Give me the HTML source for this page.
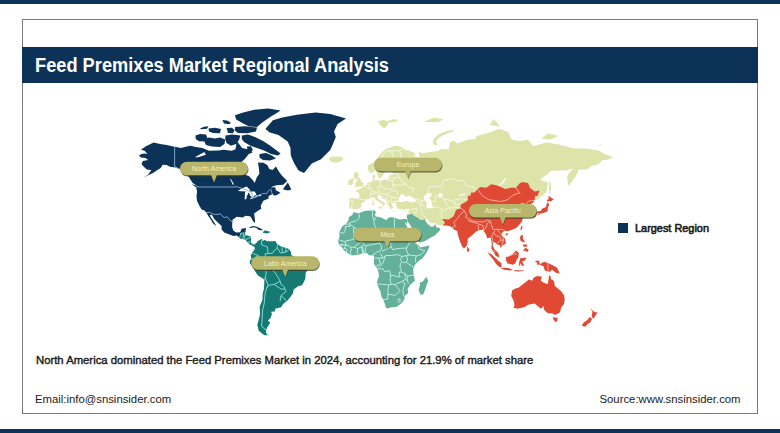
<!DOCTYPE html>
<html><head><meta charset="utf-8">
<style>
*{margin:0;padding:0;box-sizing:border-box}
html,body{width:780px;height:433px;overflow:hidden;background:#fff;font-family:"Liberation Sans",sans-serif}
#topbar{position:absolute;left:0;top:0;width:780px;height:4px;background:#0c3357}
#botbar{position:absolute;left:0;top:428.6px;width:780px;height:5px;background:#0c3357}
#frame{position:absolute;left:22px;top:19px;width:736px;height:395px;border:1px solid #7a7a7a}
#title{position:absolute;left:22px;top:47px;width:736px;height:36px;background:#0c3357}
#title span{position:absolute;left:13px;top:6.5px;color:#fff;font-weight:bold;font-size:19.5px;white-space:nowrap;transform-origin:0 0;transform:scaleX(0.935)}
.t{position:absolute;white-space:nowrap;color:#1a1a1a}
#sub{left:36px;top:353.8px;font-size:11.3px;font-weight:normal;-webkit-text-stroke:0.4px #1a1a1a;transform-origin:0 0;transform:scaleX(1.0)}
#email{left:35px;top:392.6px;font-size:11.33px}
#source{left:599.5px;top:392.6px;font-size:11.33px}
#legsq{position:absolute;left:618px;top:223px;width:10px;height:10px;background:#0c3357}
#leg{left:635px;top:221.8px;font-size:11.2px;font-weight:normal;-webkit-text-stroke:0.6px #1a1a1a;transform-origin:0 0;transform:scaleX(0.975)}
svg#map{position:absolute;left:0;top:0}
</style></head><body>
<div id="topbar"></div>
<div id="frame"></div>
<div id="title"><span>Feed Premixes Market Regional Analysis</span></div>
<svg id="map" width="780" height="433" viewBox="0 0 780 433">
<defs>
<clipPath id="cNA"><path d="M138.9,155.6L141.5,154.1L144.2,153.5L147.5,154.1L144.6,150.8L140.9,149.7L145.5,146.5L149.5,144.6L153.7,142.5L160.1,143.9L166.7,145.1L174.6,146.7L181.2,148.1L184.5,147.0L190.5,145.8L195.8,147.0L202.4,148.1L209.0,150.8L218.3,150.4L223.6,149.7L231.5,150.8L235.5,149.2L236.8,141.0L242.1,148.1L247.4,149.2L252.7,152.6L248.8,154.1L244.8,159.0L238.2,165.1L236.2,169.0L239.5,172.8L244.8,174.7L248.8,175.9L252.7,180.1L254.7,183.0L256.7,177.4L259.4,173.7L258.7,167.1L258.0,162.5L263.3,162.7L267.3,165.1L269.3,169.0L272.6,170.0L275.9,166.5L279.2,171.9L281.9,175.6L287.2,180.9L283.2,184.8L276.6,185.3L273.3,186.3L270.6,187.6L275.2,187.3L275.9,190.3L280.5,192.7L276.6,195.2L273.9,195.6L272.6,193.9L268.6,196.0L268.6,198.6L263.3,200.7L261.3,204.5L260.7,206.3L261.3,208.7L258.0,210.7L254.1,213.6L255.1,220.5L254.9,223.0L253.0,221.2L251.8,218.4L250.1,216.2L245.4,215.8L242.8,217.4L240.8,217.2L236.8,216.8L232.5,219.8L232.2,224.0L232.2,227.4L233.5,230.8L236.2,232.6L240.2,232.2L241.6,228.8L246.1,228.1L245.4,231.5L244.4,235.5L248.1,235.7L251.0,236.9L250.5,242.2L253.4,244.8L256.0,244.0L259.0,245.2L258.0,246.8L255.4,247.1L253.0,245.9L249.4,244.0L247.7,242.2L245.4,239.5L240.2,238.2L236.8,235.5L233.5,235.9L228.9,234.2L224.3,232.4L221.6,229.5L221.6,226.0L218.3,222.9L214.3,219.1L211.7,214.5L209.7,215.5L212.0,219.1L215.7,224.7L216.3,226.0L213.0,223.6L210.4,219.1L208.4,216.2L206.3,212.6L204.4,210.4L201.6,209.6L199.1,205.2L197.1,201.0L196.5,196.8L197.1,191.4L196.2,188.0L198.4,187.0L195.8,185.3L192.5,182.7L189.2,177.4L185.2,172.8L181.2,170.0L176.6,167.5L170.6,167.1L166.7,165.1L162.7,164.7L160.7,168.0L157.4,170.0L153.4,172.8L146.8,176.1L143.5,177.4L148.1,174.7L151.4,170.0L146.8,169.4L143.5,166.5L141.5,164.1L142.8,161.1L148.1,160.1L145.5,158.0L140.9,157.5Z"/></clipPath>
<clipPath id="cEU"><path fill-rule="evenodd" d="M353.9,210.0L353.0,208.8L351.4,208.2L349.5,208.5L349.6,205.9L348.7,205.8L349.5,203.2L349.6,200.8L349.0,199.3L350.7,198.1L356.0,198.5L358.9,198.6L359.7,195.2L358.4,192.6L355.1,191.1L357.3,189.8L359.3,190.0L359.2,188.3L361.3,188.6L363.4,186.2L365.3,185.5L367.3,184.3L367.7,182.6L370.6,181.7L372.8,181.0L372.7,178.1L372.2,175.7L374.5,174.2L375.3,176.6L374.5,179.0L375.9,180.4L378.5,179.9L380.5,181.0L385.1,179.3L387.5,179.9L389.4,177.7L389.1,175.3L392.4,174.9L393.3,174.4L392.4,171.5L398.4,170.5L394.4,169.0L390.4,169.2L389.8,166.6L389.8,163.6L394.4,159.4L393.7,157.7L389.8,159.4L386.5,162.6L384.5,164.6L383.9,168.0L386.2,170.5L383.1,174.4L382.5,176.8L378.5,178.3L378.2,176.2L376.9,173.4L375.9,171.5L375.2,170.0L373.9,171.5L371.2,173.4L368.8,171.9L367.9,168.6L367.9,165.6L370.6,164.0L374.5,161.9L377.2,158.3L379.8,155.1L382.5,151.7L385.8,149.0L391.8,147.1L395.5,145.7L399.0,146.2L402.3,147.6L405.0,149.9L409.0,150.6L415.6,153.5L414.3,156.6L419.6,157.3L418.6,151.5L422.2,153.3L431.5,151.7L438.1,151.1L440.7,149.0L448.7,149.5L450.0,142.3L454.0,140.6L457.3,143.5L460.6,142.3L467.2,139.8L475.2,139.1L476.5,136.0L487.1,133.3L499.4,128.7L508.3,132.0L511.6,139.8L520.2,141.1L528.1,139.8L533.4,145.9L546.7,142.5L559.9,144.7L573.1,148.3L586.4,148.8L597.0,150.2L599.6,151.1L606.2,154.7L613.3,157.1L607.6,159.8L602.3,160.3L598.3,164.6L591.7,166.0L586.4,169.6L578.4,169.8L577.1,173.4L575.8,176.2L573.1,179.9L568.8,186.1L567.8,182.6L567.2,177.2L568.5,173.8L573.1,168.6L566.5,170.5L559.9,170.5L550.6,170.9L547.3,174.4L544.0,176.2L540.0,179.9L548.0,182.6L547.3,187.8L546.7,191.1L544.0,194.4L537.4,199.6L534.3,200.4L533.0,202.7L530.1,204.2L531.4,206.2L532.8,210.0L532.4,211.3L528.8,212.4L528.8,210.0L528.8,207.3L526.8,207.0L527.5,204.7L525.9,203.9L522.8,203.2L521.5,205.5L522.2,202.5L519.5,204.7L517.3,205.6L518.9,208.2L523.5,207.9L519.5,211.5L521.2,215.1L522.7,217.3L522.2,220.9L519.5,224.4L516.2,227.9L512.2,229.5L507.6,231.3L505.0,230.5L502.3,232.4L501.4,234.7L505.0,238.7L506.0,243.4L503.0,245.3L500.1,247.8L500.3,245.3L497.7,244.7L495.0,242.4L493.7,241.4L492.6,245.3L494.4,249.3L496.3,251.0L498.3,253.2L499.4,257.3L498.2,257.1L495.4,255.4L494.1,252.6L491.4,248.6L491.7,243.4L490.8,237.4L487.1,238.3L486.2,234.7L483.8,231.3L482.8,229.2L481.1,229.9L478.5,230.3L476.5,231.3L474.5,233.1L471.2,236.0L467.6,238.7L467.6,241.9L467.0,245.6L463.9,248.5L462.3,246.4L460.6,242.7L458.9,238.0L457.7,234.0L457.4,231.0L454.0,229.5L452.4,227.9L450.0,226.1L446.0,225.4L442.9,225.5L437.4,224.8L435.7,222.7L432.8,223.4L429.5,221.9L428.2,219.4L425.5,218.7L424.9,220.2L426.8,223.0L428.2,225.1L429.5,224.4L429.6,226.5L433.5,226.7L435.4,224.0L436.1,227.2L439.2,227.9L440.5,229.4L438.1,232.0L434.8,235.6L430.8,237.4L425.5,240.7L420.9,242.3L418.9,242.4L417.8,238.7L415.6,233.3L412.9,229.9L410.3,225.1L407.6,221.6L407.5,219.4L406.6,216.9L407.6,214.4L408.7,210.7L409.2,209.1L407.0,208.8L404.3,209.8L401.7,209.2L398.4,208.9L396.4,206.2L396.0,203.9L395.7,202.7L393.1,202.7L391.8,203.5L391.2,203.2L391.8,205.0L393.1,207.0L391.8,209.2L390.0,208.8L389.4,206.5L387.8,204.5L387.0,201.1L385.8,200.0L382.5,198.5L380.5,195.6L379.4,195.1L377.6,195.6L377.9,197.7L379.8,200.0L382.5,201.6L385.8,203.8L383.8,204.7L383.1,206.2L382.1,207.0L382.5,204.7L381.8,203.5L380.1,202.7L377.9,201.3L375.9,200.0L374.5,197.7L373.1,197.0L371.2,198.0L368.6,198.9L365.4,199.3L365.5,201.0L364.2,201.8L362.0,203.2L360.9,204.7L361.6,205.9L360.6,207.6L358.4,208.9L355.5,208.9ZM399.7,202.1L403.0,202.1L407.6,200.8L411.6,202.4L416.2,201.6L416.2,200.0L411.6,196.9L409.6,195.6L405.7,196.9L404.3,195.2L401.7,193.6L400.5,195.7L399.0,198.5L398.4,200.8ZM423.5,196.9L426.8,193.6L428.8,192.8L431.5,193.1L431.5,196.1L429.1,196.9L431.2,200.8L432.1,203.2L432.7,208.0L427.5,208.5L426.2,207.0L426.8,203.5L425.5,200.8L424.2,199.3Z"/></clipPath>
</defs>
<path fill="#0c3357" d="M138.9,155.6L141.5,154.1L144.2,153.5L147.5,154.1L144.6,150.8L140.9,149.7L145.5,146.5L149.5,144.6L153.7,142.5L160.1,143.9L166.7,145.1L174.6,146.7L181.2,148.1L184.5,147.0L190.5,145.8L195.8,147.0L202.4,148.1L209.0,150.8L218.3,150.4L223.6,149.7L231.5,150.8L235.5,149.2L236.8,141.0L242.1,148.1L247.4,149.2L252.7,152.6L248.8,154.1L244.8,159.0L238.2,165.1L236.2,169.0L239.5,172.8L244.8,174.7L248.8,175.9L252.7,180.1L254.7,183.0L256.7,177.4L259.4,173.7L258.7,167.1L258.0,162.5L263.3,162.7L267.3,165.1L269.3,169.0L272.6,170.0L275.9,166.5L279.2,171.9L281.9,175.6L287.2,180.9L283.2,184.8L276.6,185.3L273.3,186.3L270.6,187.6L275.2,187.3L275.9,190.3L280.5,192.7L276.6,195.2L273.9,195.6L272.6,193.9L268.6,196.0L268.6,198.6L263.3,200.7L261.3,204.5L260.7,206.3L261.3,208.7L258.0,210.7L254.1,213.6L255.1,220.5L254.9,223.0L253.0,221.2L251.8,218.4L250.1,216.2L245.4,215.8L242.8,217.4L240.8,217.2L236.8,216.8L232.5,219.8L232.2,224.0L232.2,227.4L233.5,230.8L236.2,232.6L240.2,232.2L241.6,228.8L246.1,228.1L245.4,231.5L244.4,235.5L248.1,235.7L251.0,236.9L250.5,242.2L253.4,244.8L256.0,244.0L259.0,245.2L258.0,246.8L255.4,247.1L253.0,245.9L249.4,244.0L247.7,242.2L245.4,239.5L240.2,238.2L236.8,235.5L233.5,235.9L228.9,234.2L224.3,232.4L221.6,229.5L221.6,226.0L218.3,222.9L214.3,219.1L211.7,214.5L209.7,215.5L212.0,219.1L215.7,224.7L216.3,226.0L213.0,223.6L210.4,219.1L208.4,216.2L206.3,212.6L204.4,210.4L201.6,209.6L199.1,205.2L197.1,201.0L196.5,196.8L197.1,191.4L196.2,188.0L198.4,187.0L195.8,185.3L192.5,182.7L189.2,177.4L185.2,172.8L181.2,170.0L176.6,167.5L170.6,167.1L166.7,165.1L162.7,164.7L160.7,168.0L157.4,170.0L153.4,172.8L146.8,176.1L143.5,177.4L148.1,174.7L151.4,170.0L146.8,169.4L143.5,166.5L141.5,164.1L142.8,161.1L148.1,160.1L145.5,158.0L140.9,157.5ZM282.8,189.3L287.8,182.5L291.4,189.5L287.8,190.6ZM198.1,188.1L195.8,187.3L191.4,183.9L196.5,186.1ZM243.2,112.5L254.3,109.7L268.1,108.6L280.6,110.4L276.0,113.5L270.9,116.6L262.6,122.2L257.0,127.0L248.7,126.3L243.2,123.5L236.2,119.4L234.9,115.2ZM235.0,127.0L245.0,126.3L257.0,127.5L256.0,131.5L247.0,133.2L238.0,133.0L234.9,130.5ZM226.6,128.0L232.0,127.7L234.5,130.0L233.0,133.2L228.0,133.0ZM222.4,120.0L227.0,120.5L230.7,122.5L229.5,124.2L224.0,123.5ZM208.5,128.5L215.0,127.7L221.0,129.0L220.0,133.2L213.0,133.0L209.0,131.5ZM200.0,128.5L204.0,126.8L208.5,126.3L207.0,128.7L201.0,129.3ZM195.4,135.5L200.0,134.0L206.0,134.5L207.2,137.5L205.5,141.6L199.0,141.2L195.8,139.0ZM204.4,139.0L209.0,137.4L215.0,138.5L220.0,137.5L225.2,139.5L224.5,144.0L220.0,147.0L212.0,146.5L206.0,145.0L204.6,142.0ZM225.5,135.5L232.0,134.6L240.4,135.5L239.0,140.0L236.0,144.0L231.0,145.7L226.5,143.0L225.2,139.0ZM241.8,135.5L248.0,134.6L255.0,137.0L263.0,141.0L270.0,145.5L276.0,150.0L280.6,153.5L278.0,155.4L271.0,154.0L264.0,150.5L257.0,148.0L250.0,145.5L244.0,142.0L241.8,139.0ZM259.5,154.0L266.0,153.0L272.0,155.5L276.0,158.5L270.0,160.5L263.0,160.0L259.5,157.5ZM247.0,146.5L251.0,146.2L252.8,150.0L250.5,153.4L247.5,152.0ZM265.5,128.7L272.9,120.3L282.2,117.6L297.0,114.8L315.5,112.6L330.2,113.9L346.0,118.5L337.6,124.0L334.0,131.4L335.8,137.0L332.0,146.2L330.2,150.0L321.0,159.2L311.8,163.5L304.0,173.0L298.5,170.5L294.0,163.0L290.8,155.5L290.5,148.0L287.7,141.6L278.5,135.1L269.2,132.3Z"/>
<path fill="#157a73" clip-path="url(#cNA)" d="M239.2,237.5L240.3,235.4L240.9,233.1L243.2,233.1L244.5,232.2L246.8,228.8L247.4,226.7L281.9,226.7L281.9,256.6L228.9,256.6L228.9,237.5Z"/>
<path fill="#0c3357" d="M248.9,227.6L252.7,225.9L256.7,226.7L260.7,228.5L263.1,229.9L262.0,230.3L258.7,230.1L257.4,228.4L254.1,227.3L250.1,228.0Z"/>
<path fill="#157a73" d="M262.7,232.2L264.9,230.3L270.7,232.0L267.3,233.4L262.9,232.7Z"/>
<path fill="#157a73" d="M255.0,243.7L256.7,242.7L257.3,241.3L259.3,240.3L262.0,238.8L262.6,240.9L264.6,240.0L267.3,241.3L272.6,241.2L275.5,241.1L276.5,243.3L280.5,246.2L284.5,247.4L288.5,248.8L289.8,249.9L291.1,252.7L291.1,255.1L293.7,256.4L298.4,258.1L303.0,258.9L306.3,259.9L310.7,262.3L311.2,264.9L310.6,267.1L308.3,269.5L305.7,272.8L305.4,278.4L303.7,282.2L301.7,285.5L298.4,286.1L293.7,289.5L293.0,293.3L290.4,296.9L287.1,301.0L284.5,302.7L282.5,304.7L281.2,307.2L275.2,308.7L274.8,311.5L271.2,311.8L271.9,314.2L270.6,318.1L267.9,320.6L270.2,322.7L267.3,327.3L265.9,330.4L266.6,334.3L269.3,335.2L264.6,335.2L262.0,333.4L258.7,330.8L257.3,324.7L258.7,319.8L260.0,314.2L259.7,306.5L262.5,299.8L262.6,294.0L264.0,288.4L264.4,279.5L258.0,275.5L256.0,272.8L253.4,268.2L249.7,262.9L250.1,260.3L251.4,258.4L250.7,255.8L252.0,253.1L253.4,251.2L254.7,249.2L254.7,245.9Z"/>
<path fill="#65b098" d="M353.5,212.3L358.7,213.3L365.3,210.8L371.9,210.6L374.9,210.2L375.9,212.7L374.5,214.9L376.5,216.4L381.2,217.4L386.5,220.3L387.8,217.9L391.8,217.1L399.7,219.4L403.7,218.9L406.6,218.9L407.5,221.4L406.6,223.9L404.3,220.9L405.7,224.3L408.3,229.2L410.6,233.3L412.3,237.3L413.9,240.7L416.5,243.4L418.6,245.6L420.2,247.5L429.2,245.6L428.8,248.0L426.2,253.3L422.2,258.5L416.9,262.4L414.3,265.7L413.2,269.6L413.6,274.2L414.9,280.8L410.0,284.9L407.6,288.9L408.3,293.0L404.9,295.7L404.3,299.5L401.7,302.9L397.0,306.7L390.4,307.5L387.8,308.4L385.7,307.5L385.1,304.3L383.1,299.5L381.4,296.5L380.5,291.5L378.5,287.6L376.9,283.5L377.9,278.8L379.2,275.5L377.5,268.9L373.9,263.7L373.9,259.8L374.1,255.9L372.6,255.2L369.2,255.5L366.6,252.7L362.6,253.3L358.7,254.8L351.4,255.4L346.1,252.1L343.7,250.0L341.4,246.8L339.1,244.7L338.1,241.8L339.7,235.3L338.8,233.3L342.1,226.4L346.1,223.6L348.3,220.7L349.0,217.1L352.3,214.9ZM426.6,276.8L428.2,281.5L426.8,284.2L424.9,290.3L423.5,294.1L421.1,295.1L419.6,293.0L418.6,289.6L420.0,284.9L419.6,282.8L422.9,281.5L424.9,278.8Z"/>
<path fill="#dde4aa" fill-rule="evenodd" d="M353.9,210.0L353.0,208.8L351.4,208.2L349.5,208.5L349.6,205.9L348.7,205.8L349.5,203.2L349.6,200.8L349.0,199.3L350.7,198.1L356.0,198.5L358.9,198.6L359.7,195.2L358.4,192.6L355.1,191.1L357.3,189.8L359.3,190.0L359.2,188.3L361.3,188.6L363.4,186.2L365.3,185.5L367.3,184.3L367.7,182.6L370.6,181.7L372.8,181.0L372.7,178.1L372.2,175.7L374.5,174.2L375.3,176.6L374.5,179.0L375.9,180.4L378.5,179.9L380.5,181.0L385.1,179.3L387.5,179.9L389.4,177.7L389.1,175.3L392.4,174.9L393.3,174.4L392.4,171.5L398.4,170.5L394.4,169.0L390.4,169.2L389.8,166.6L389.8,163.6L394.4,159.4L393.7,157.7L389.8,159.4L386.5,162.6L384.5,164.6L383.9,168.0L386.2,170.5L383.1,174.4L382.5,176.8L378.5,178.3L378.2,176.2L376.9,173.4L375.9,171.5L375.2,170.0L373.9,171.5L371.2,173.4L368.8,171.9L367.9,168.6L367.9,165.6L370.6,164.0L374.5,161.9L377.2,158.3L379.8,155.1L382.5,151.7L385.8,149.0L391.8,147.1L395.5,145.7L399.0,146.2L402.3,147.6L405.0,149.9L409.0,150.6L415.6,153.5L414.3,156.6L419.6,157.3L418.6,151.5L422.2,153.3L431.5,151.7L438.1,151.1L440.7,149.0L448.7,149.5L450.0,142.3L454.0,140.6L457.3,143.5L460.6,142.3L467.2,139.8L475.2,139.1L476.5,136.0L487.1,133.3L499.4,128.7L508.3,132.0L511.6,139.8L520.2,141.1L528.1,139.8L533.4,145.9L546.7,142.5L559.9,144.7L573.1,148.3L586.4,148.8L597.0,150.2L599.6,151.1L606.2,154.7L613.3,157.1L607.6,159.8L602.3,160.3L598.3,164.6L591.7,166.0L586.4,169.6L578.4,169.8L577.1,173.4L575.8,176.2L573.1,179.9L568.8,186.1L567.8,182.6L567.2,177.2L568.5,173.8L573.1,168.6L566.5,170.5L559.9,170.5L550.6,170.9L547.3,174.4L544.0,176.2L540.0,179.9L548.0,182.6L547.3,187.8L546.7,191.1L544.0,194.4L537.4,199.6L534.3,200.4L533.0,202.7L530.1,204.2L531.4,206.2L532.8,210.0L532.4,211.3L528.8,212.4L528.8,210.0L528.8,207.3L526.8,207.0L527.5,204.7L525.9,203.9L522.8,203.2L521.5,205.5L522.2,202.5L519.5,204.7L517.3,205.6L518.9,208.2L523.5,207.9L519.5,211.5L521.2,215.1L522.7,217.3L522.2,220.9L519.5,224.4L516.2,227.9L512.2,229.5L507.6,231.3L505.0,230.5L502.3,232.4L501.4,234.7L505.0,238.7L506.0,243.4L503.0,245.3L500.1,247.8L500.3,245.3L497.7,244.7L495.0,242.4L493.7,241.4L492.6,245.3L494.4,249.3L496.3,251.0L498.3,253.2L499.4,257.3L498.2,257.1L495.4,255.4L494.1,252.6L491.4,248.6L491.7,243.4L490.8,237.4L487.1,238.3L486.2,234.7L483.8,231.3L482.8,229.2L481.1,229.9L478.5,230.3L476.5,231.3L474.5,233.1L471.2,236.0L467.6,238.7L467.6,241.9L467.0,245.6L463.9,248.5L462.3,246.4L460.6,242.7L458.9,238.0L457.7,234.0L457.4,231.0L454.0,229.5L452.4,227.9L450.0,226.1L446.0,225.4L442.9,225.5L437.4,224.8L435.7,222.7L432.8,223.4L429.5,221.9L428.2,219.4L425.5,218.7L424.9,220.2L426.8,223.0L428.2,225.1L429.5,224.4L429.6,226.5L433.5,226.7L435.4,224.0L436.1,227.2L439.2,227.9L440.5,229.4L438.1,232.0L434.8,235.6L430.8,237.4L425.5,240.7L420.9,242.3L418.9,242.4L417.8,238.7L415.6,233.3L412.9,229.9L410.3,225.1L407.6,221.6L407.5,219.4L406.6,216.9L407.6,214.4L408.7,210.7L409.2,209.1L407.0,208.8L404.3,209.8L401.7,209.2L398.4,208.9L396.4,206.2L396.0,203.9L395.7,202.7L393.1,202.7L391.8,203.5L391.2,203.2L391.8,205.0L393.1,207.0L391.8,209.2L390.0,208.8L389.4,206.5L387.8,204.5L387.0,201.1L385.8,200.0L382.5,198.5L380.5,195.6L379.4,195.1L377.6,195.6L377.9,197.7L379.8,200.0L382.5,201.6L385.8,203.8L383.8,204.7L383.1,206.2L382.1,207.0L382.5,204.7L381.8,203.5L380.1,202.7L377.9,201.3L375.9,200.0L374.5,197.7L373.1,197.0L371.2,198.0L368.6,198.9L365.4,199.3L365.5,201.0L364.2,201.8L362.0,203.2L360.9,204.7L361.6,205.9L360.6,207.6L358.4,208.9L355.5,208.9ZM399.7,202.1L403.0,202.1L407.6,200.8L411.6,202.4L416.2,201.6L416.2,200.0L411.6,196.9L409.6,195.6L405.7,196.9L404.3,195.2L401.7,193.6L400.5,195.7L399.0,198.5L398.4,200.8ZM423.5,196.9L426.8,193.6L428.8,192.8L431.5,193.1L431.5,196.1L429.1,196.9L431.2,200.8L432.1,203.2L432.7,208.0L427.5,208.5L426.2,207.0L426.8,203.5L425.5,200.8L424.2,199.3ZM378.0,121.0L384.0,120.0L389.0,121.5L387.0,126.0L384.0,128.5L380.0,125.0ZM388.0,120.5L394.0,119.2L398.5,119.8L395.0,122.0L390.0,122.5ZM454.0,129.5L447.0,131.0L440.0,133.5L434.5,138.0L432.5,142.0L435.0,145.5L437.5,144.5L436.0,141.0L440.0,137.0L446.0,134.0L453.0,131.5ZM353.8,187.6L356.7,187.1L360.0,186.6L363.2,185.7L363.6,183.3L361.7,181.9L361.0,179.9L359.2,177.9L358.0,176.6L358.9,174.4L357.3,172.3L354.7,172.3L353.6,175.3L354.0,177.2L354.9,179.0L357.3,179.2L357.1,181.9L355.2,182.2L355.7,183.6L354.4,184.7L357.1,185.4L355.5,185.9ZM353.4,184.0L353.1,181.7L354.0,179.3L353.4,178.6L351.4,178.4L350.0,179.9L348.1,180.4L348.3,182.6L347.7,184.7L350.0,185.0ZM328.9,158.3L332.2,156.4L337.5,156.8L342.1,156.6L343.4,159.4L341.4,160.9L336.4,162.8L331.5,161.9L329.5,159.8ZM489.7,125.0L500.3,126.4L493.7,119.0ZM423.5,122.0L434.1,117.5L443.4,119.6L438.1,122.0ZM541.4,138.5L549.3,139.8L558.6,136.0L548.0,133.3ZM597.6,145.9L602.9,144.7L599.6,144.7ZM377.7,206.8L382.0,206.5L381.3,208.9L378.0,207.6ZM372.2,202.4L374.3,202.2L374.0,205.3L372.4,205.5ZM372.7,199.4L373.9,199.3L373.6,201.8L372.7,201.1ZM392.4,210.6L396.1,211.0L394.4,211.6L392.5,211.2ZM404.1,211.5L407.1,210.4L406.2,211.6L404.3,211.9ZM549.3,180.2L550.6,182.6L551.3,189.0L549.3,194.4L549.0,190.3Z"/>
<path fill="#65b098" clip-path="url(#cEU)" d="M401.0,216.6L407.0,214.1L407.8,214.3L408.6,214.8L412.7,213.8L413.2,215.6L416.9,217.2L420.5,219.9L422.9,220.0L424.7,218.7L425.5,218.9L427.5,220.9L430.1,223.7L434.8,224.4L436.1,223.4L438.1,225.8L443.4,229.9L454.0,246.0L440.7,314.3L401.0,314.3Z"/>
<path fill="#e04a35" clip-path="url(#cEU)" d="M442.9,232.6L442.9,225.5L445.1,222.6L441.9,218.9L448.7,219.4L453.3,216.6L454.6,213.7L456.0,210.0L460.5,208.2L460.6,204.7L464.6,202.4L467.5,200.8L467.9,196.1L470.5,195.6L471.2,192.5L474.5,192.6L477.5,189.1L480.5,186.9L486.4,187.8L491.1,184.3L496.3,185.2L501.6,187.3L505.0,189.0L512.2,187.4L515.8,187.9L519.5,183.4L522.2,182.0L528.1,182.9L530.1,188.1L534.7,191.6L539.6,190.6L537.5,196.1L534.7,196.4L535.0,199.4L534.2,200.2L535.4,201.6L559.9,218.7L559.9,259.1L442.9,259.1Z"/>
<path fill="#e04a35" d="M548.0,202.1L549.3,205.2L548.0,207.0L547.7,210.5L546.7,212.0L544.7,212.6L542.4,213.2L540.2,213.7L537.4,213.2L534.7,213.2L536.7,211.4L540.7,210.9L542.4,208.5L546.0,206.9L546.7,203.7ZM548.6,195.7L552.0,198.2L553.9,199.3L551.0,201.3L548.0,201.6L546.7,200.5L548.6,199.0ZM533.4,214.2L535.4,214.2L535.4,217.1L534.1,217.8L533.2,215.3ZM536.7,214.9L539.6,213.4L539.4,214.5L537.4,215.3ZM521.5,225.9L522.8,226.3L521.2,230.4L520.3,229.0ZM505.2,234.2L507.6,233.0L508.3,233.7L506.3,235.6ZM467.1,246.8L467.5,246.8L469.6,249.8L468.8,251.5L467.2,251.8L467.0,249.8ZM520.8,235.2L523.2,235.2L522.8,238.5L525.5,242.5L520.8,241.2L519.9,238.1ZM522.8,250.4L525.5,247.8L528.8,249.8L527.5,252.0L525.5,251.1ZM522.8,244.5L527.5,244.5L526.8,246.8L523.5,246.8ZM487.5,252.3L491.1,254.1L494.4,257.0L498.7,260.9L501.6,263.5L501.4,267.2L499.7,267.3L496.3,264.2L493.7,260.3L491.1,257.0ZM500.6,268.5L504.3,267.8L508.3,268.0L512.9,269.7L510.2,270.6L504.3,269.8L501.0,268.6ZM505.6,257.6L506.3,260.9L507.6,263.5L512.9,264.8L515.3,263.5L516.9,258.9L518.2,258.3L518.9,253.1L516.2,250.4L514.2,252.4L512.0,254.4L508.9,256.3L506.3,257.0ZM519.5,266.8L520.8,262.9L521.9,265.9L524.2,265.5L522.2,261.6L524.5,260.8L526.8,257.6L520.2,258.3L518.9,263.5ZM534.7,260.9L538.7,260.6L540.0,263.9L544.0,261.7L548.0,263.0L554.2,265.9L557.0,267.8L559.9,273.4L555.9,272.7L552.0,269.8L550.0,271.8L548.0,271.6L544.7,270.5L543.7,266.5L539.4,264.6L536.7,264.8L537.4,262.9ZM525.5,271.9L529.8,270.6L526.8,271.4ZM513.6,270.3L518.9,270.3L524.2,270.5L523.5,271.1L517.5,271.4L514.2,271.1ZM550.0,275.1L551.3,279.5L553.9,280.8L554.9,285.9L558.6,288.9L561.0,291.0L563.9,295.1L564.7,299.5L563.9,304.3L561.5,307.1L559.9,312.5L555.1,314.9L552.6,313.5L548.0,313.2L546.0,311.7L544.0,309.5L543.4,305.8L541.4,308.7L540.0,308.0L534.7,303.6L528.1,304.8L524.8,307.1L517.5,308.7L513.7,307.8L514.5,304.3L513.3,300.0L511.2,296.1L512.2,290.3L515.5,288.6L518.9,287.6L522.8,284.2L525.5,282.2L528.8,279.5L532.1,280.8L533.4,278.2L534.7,277.1L537.4,275.9L542.0,276.8L541.4,278.8L540.7,280.8L543.4,282.6L547.7,284.2L548.8,278.2L548.8,276.2ZM552.8,317.3L557.6,317.7L557.3,321.3L555.7,321.9L553.5,319.7ZM590.0,307.8L592.3,310.2L594.1,311.7L597.6,312.8L595.6,315.2L593.7,318.6L592.5,318.3L591.7,315.0L592.5,311.7ZM589.8,317.0L592.1,318.9L590.4,322.2L587.7,324.1L585.1,326.7L581.7,325.8L583.7,322.5L587.0,320.2Z"/>
<path fill="#fff" d="M237.8,191.1L242.2,188.2L246.7,186.4L250.6,190.4L247.6,191.6L241.4,191.3ZM244.6,199.3L245.1,191.8L249.6,190.7L246.9,196.1L246.3,199.3ZM248.4,191.2L254.7,191.6L256.4,194.4L252.0,197.7L250.2,195.5ZM250.1,199.2L257.8,196.8L256.0,196.8L250.6,198.1ZM254.8,196.5L261.2,196.1L260.7,194.6L256.2,195.4ZM194.8,157.2L204.3,152.0L205.9,154.7L198.0,157.2ZM205.5,165.4L218.2,161.1L213.4,163.0L207.1,164.2ZM233.0,184.9L229.9,178.6L231.4,179.7L233.8,183.9ZM498.6,185.2L501.0,183.4L505.0,178.1L506.3,178.4L503.0,183.4L499.7,185.5ZM438.8,193.6L443.1,193.6L442.1,197.2L438.8,197.7ZM459.3,194.4L465.9,193.6L465.2,194.8L459.9,195.7Z"/>
<path fill="none" stroke="#86aed4" stroke-width="0.9" d="M198.1,187.0L235.3,187.0L235.3,186.3L242.8,188.6L249.4,191.1L252.1,193.1L252.1,198.3L256.7,196.3L260.0,194.8L262.4,193.6L266.6,193.6L268.6,190.8L269.7,189.6L271.3,189.8L271.5,192.4L272.6,193.9M206.3,212.6L209.4,212.3L214.3,214.4L218.0,214.4L220.3,213.6L222.9,216.8L224.8,217.7L227.0,216.5L229.6,219.8L232.6,222.0M174.6,146.7L174.6,166.5L179.2,169.0L182.6,167.7L189.2,174.8"/>
<path fill="none" stroke="#95eade" stroke-width="0.85" d="M239.2,237.5L240.3,235.4L240.9,233.1L243.2,233.1L244.5,232.2M243.2,233.1L243.2,235.7L244.5,235.9M242.0,238.6L243.1,237.7L244.8,238.3L245.2,239.3M243.2,236.9L245.4,235.8M245.7,239.7L248.8,238.2L251.1,236.9M247.8,242.1L250.5,242.3M251.5,246.1L251.9,244.2M289.0,249.6L285.8,252.2L280.5,253.1L277.7,248.3L274.6,250.1L272.6,253.1L268.7,253.5L265.3,253.8L264.9,260.6L260.6,264.6L261.3,268.2L264.0,269.5L270.8,268.2L275.2,272.8L277.6,276.6L280.2,281.3L281.0,284.3L284.5,287.0L285.0,289.3L286.1,291.4L281.0,295.7L286.6,300.8M266.5,330.4L261.6,326.4L262.2,318.1L262.6,310.3L264.2,303.5L264.6,299.1L265.3,292.6L266.9,287.7L268.3,285.4L274.2,284.3L280.2,281.3M264.1,279.3L265.3,278.2L265.9,274.8L266.3,271.5L264.0,269.5M266.9,287.7L268.3,285.4L265.3,278.2M251.0,259.5L255.4,258.4L257.7,255.2L260.0,257.1L264.6,260.6M252.7,253.4L257.7,255.2M262.0,240.0L261.3,244.6L264.6,245.9L267.5,247.0L267.9,252.5L268.7,253.5M277.9,244.0L276.9,248.3M281.8,247.3L282.5,252.5M285.8,247.7L285.8,252.1M274.4,284.6L281.0,289.0L285.0,289.3M280.0,301.1L281.0,295.7M255.1,244.8L254.3,243.8"/>
<path fill="none" stroke="#c8f7ea" stroke-width="0.85" d="M358.9,213.5L359.7,217.7L356.4,220.7L349.8,222.6L349.8,224.6L354.9,227.8M349.8,224.0L343.8,224.1M349.8,224.6L349.8,226.5L345.4,226.4L345.4,229.9L344.1,232.9L338.8,232.9M372.7,210.6L372.3,214.9L373.9,220.5L374.4,225.0L377.1,229.9L371.2,233.4L366.9,235.7L365.7,236.0L354.9,227.8M376.5,216.3L374.8,219.6L373.9,220.5M394.4,218.4L394.4,231.9L410.2,231.9M394.4,231.9L394.4,234.6L393.1,235.3L393.1,240.4L391.1,242.7L390.4,244.7L391.6,246.8L392.4,249.7M393.1,235.3L382.4,230.0L380.1,231.1L377.1,229.9M380.1,231.1L381.8,233.7L381.2,240.0L379.3,243.1L380.6,245.1L381.8,248.0L379.7,251.3L377.2,251.9L372.6,255.1M354.9,227.8L353.4,228.5L354.0,239.5L346.1,240.7L345.1,241.8M339.5,239.9L345.1,241.8L346.1,245.0L343.2,244.6L339.1,244.7M340.8,246.0L343.2,244.6M343.7,248.9L346.1,245.0L350.0,246.3L350.7,247.7L351.4,250.6L350.0,251.3L351.4,255.4M346.1,252.1L347.4,250.2L345.4,248.0L343.7,248.9M366.9,235.7L366.9,239.0L361.6,241.5L354.0,247.1L350.7,247.7M379.3,243.1L377.2,243.6L373.2,244.3L366.1,245.8L364.9,252.7M361.6,241.5L364.1,244.6L366.1,245.8M354.0,247.1L357.7,248.7L361.3,246.7L364.1,244.6M357.2,254.4L357.7,248.7M362.9,253.1L361.3,246.7M363.6,253.0L362.6,246.7M381.8,251.3L385.8,249.5L391.6,246.8M380.5,253.3L382.7,258.2L385.8,255.5L391.1,255.5L397.6,254.6L402.1,256.5L406.2,255.6L408.8,255.1L416.8,255.9L415.6,257.4L415.6,262.4M392.4,249.7L397.0,248.7L401.0,248.3L406.1,248.0L406.4,248.7L406.3,250.0L408.8,255.1M406.4,248.7L409.6,242.3L412.3,237.3M409.6,242.3L414.3,242.0L417.6,244.7M418.0,246.7L419.6,249.3L424.9,250.6L420.9,254.6L416.8,255.9M413.2,267.1L406.3,262.4L401.7,262.4L400.5,259.8L402.1,256.5M406.2,255.6L407.6,259.1L406.3,262.4M400.5,263.1L400.0,267.0L401.7,272.2L404.9,273.4L407.1,276.2L414.9,274.9M401.7,272.2L399.0,272.2L399.6,276.2L400.4,277.1L397.7,276.7L393.1,275.5L390.4,275.5L390.4,278.2L390.4,282.4L392.1,284.2L394.8,284.6L401.5,281.6L405.3,279.5L404.9,273.4M377.5,268.9L383.1,268.9L384.5,271.6L389.8,270.6L390.4,275.5M376.9,283.9L389.0,284.9L392.1,284.2M377.9,267.6L382.7,263.7L384.9,257.8L385.8,255.5M374.3,258.1L382.7,258.2M376.0,266.2L380.5,263.7L378.9,258.2M389.0,284.9L387.8,290.3L387.8,294.1L387.8,299.2L383.1,299.5M387.8,294.1L395.2,295.3L400.1,290.6L394.8,284.6M401.5,281.6L404.9,283.5L402.7,290.8L403.7,295.8L404.9,297.1M407.6,280.8L407.1,276.2M405.3,279.5L407.6,280.8L408.3,283.5M397.0,300.8L399.7,298.6L400.4,301.5L397.7,302.3"/>
<path fill="none" stroke="#f7f8e6" stroke-width="0.85" d="M398.4,168.6L401.0,165.6L400.4,160.5L401.0,153.5L399.3,150.6L402.3,148.8M376.9,171.5L377.9,166.6L379.8,160.5L385.1,151.7L388.4,150.6L395.1,150.8L399.3,150.6M393.2,157.7L392.4,152.9L388.4,150.6M398.4,170.5L398.1,174.4L398.6,177.0L403.0,182.6L405.7,183.8L408.3,187.3L414.3,188.6L411.9,192.6M389.4,177.7L396.5,177.7L398.6,177.0M389.1,175.3L393.5,173.8L397.7,174.4M358.9,198.6L365.5,200.2M349.6,200.8L352.7,201.1L352.0,204.7L351.5,208.2M364.6,185.9L366.9,187.8L369.5,188.6L372.2,189.5L371.4,191.8L369.2,193.9L370.6,194.6L371.2,198.0M367.3,184.3L369.2,184.7L370.6,182.0M369.2,184.7L369.5,188.6M380.1,181.0L380.6,186.1L377.2,187.3L379.6,189.8L378.5,192.0L374.0,192.0L371.4,191.8M380.9,186.2L386.2,188.6L391.1,189.3L393.1,186.4L392.4,183.4L392.4,180.4L387.5,179.9M372.7,179.2L374.4,179.3M375.2,193.1L377.5,192.6L379.4,193.6L382.5,193.6L387.8,194.1L391.1,191.1L396.5,190.6L398.6,195.2M370.6,194.6L375.2,193.6M383.7,190.1L386.2,188.6M388.2,194.3L391.2,197.2L399.0,198.1M391.1,202.1L396.1,201.3L398.4,200.8M386.5,194.6L387.1,199.3L388.4,200.0L389.1,202.7L387.8,204.5M382.5,195.7L385.8,200.0M391.2,197.2L391.1,202.1M392.4,185.0L401.7,185.2L405.7,183.8M392.4,180.4L396.5,177.7M396.1,201.3L395.7,202.7M416.2,201.6L418.9,202.2L420.6,204.4L420.6,208.2M414.3,198.5L422.9,201.0L425.5,200.8M422.9,201.0L420.9,202.4L421.5,204.7L424.9,206.2M427.5,193.6L428.8,186.9L434.8,186.7L442.1,186.1L443.0,180.8L452.7,178.4L458.6,180.8L463.0,180.2L467.2,186.4L471.2,186.1L476.9,189.3M431.5,200.8L435.4,201.9L435.4,196.1L439.4,195.2L443.4,198.5L448.7,200.0L452.7,201.6L455.3,199.6L459.3,198.9L467.5,199.4M432.7,208.0L436.8,206.7L441.4,209.1L442.3,210.7L441.4,213.7L441.9,218.9M442.3,210.7L446.7,208.5L450.7,208.0L454.0,207.7L456.0,207.1L460.5,208.2M443.4,198.5L446.7,204.7L450.7,208.0M454.0,203.9L458.6,204.7L460.6,204.7M452.7,201.6L454.6,202.4L456.0,203.9M420.6,208.2L421.9,210.3L422.2,214.4L424.6,216.6L425.5,218.7M417.4,208.2L415.8,212.2L412.7,213.8M409.0,210.0L417.4,208.2M408.7,214.4L409.6,212.2L408.8,211.8"/>
<path fill="none" stroke="#f8d2c4" stroke-width="0.7" d="M460.5,208.2L464.3,210.7L466.6,215.1L465.6,217.3L467.9,218.5L472.5,220.9L478.1,221.9L479.1,221.6L483.1,221.9L487.7,220.2L490.4,221.3L491.7,225.8L493.0,229.6L496.1,229.2L502.3,229.5L504.3,230.6M451.6,227.6L455.3,226.5L454.0,222.3L457.3,218.7L459.9,215.1L464.3,210.7M467.9,220.6L478.1,223.7M478.7,229.9L478.1,226.1L479.1,224.0L483.1,225.8L483.8,230.6M483.8,230.6L485.8,227.9L487.1,223.7L490.4,221.3M477.5,189.1L481.8,195.2L488.8,199.7L500.3,201.5L506.9,200.0L509.3,198.1L512.9,195.4L516.9,193.5L520.0,193.3L515.8,187.9M491.7,245.3L492.6,238.7L491.7,236.7L493.7,232.2L495.3,230.6M497.0,229.4L499.0,232.0L502.3,236.0L503.6,240.0M493.7,232.2L495.7,235.6L499.7,236.7L501.0,240.3M497.0,243.4L501.0,240.3L503.6,240.0L501.9,245.3M494.0,250.6L495.7,251.5M525.9,203.9L528.8,201.1L531.4,200.8L534.2,200.2M528.8,207.3L531.3,206.1M548.0,263.0L548.0,271.6M506.5,257.0L514.2,254.0L516.9,254.1"/>
<g><rect x="180.5" y="162.9" width="68" height="13.5" rx="6.75" fill="#3a3a20" opacity="0.75"/><path d="M211.0,174.7L214.0,182.4L217.0,174.7Z" fill="#3a3a20" opacity="0.6" transform="translate(0.6,0.8)"/><rect x="180.0" y="161.7" width="68" height="13.5" rx="6.75" fill="#b8b66b"/><path d="M211.0,174.7L214.0,182.4L217.0,174.7Z" fill="#b8b66b"/><text x="214.0" y="170.9" text-anchor="middle" font-family="Liberation Sans" font-size="7" fill="#f1efc4">North America</text></g>
<g><rect x="374.5" y="159.0" width="68" height="13.5" rx="6.75" fill="#3a3a20" opacity="0.75"/><path d="M405.0,170.8L408.0,178.5L411.0,170.8Z" fill="#3a3a20" opacity="0.6" transform="translate(0.6,0.8)"/><rect x="374.0" y="157.8" width="68" height="13.5" rx="6.75" fill="#b8b66b"/><path d="M405.0,170.8L408.0,178.5L411.0,170.8Z" fill="#b8b66b"/><text x="408.0" y="167.0" text-anchor="middle" font-family="Liberation Sans" font-size="7" fill="#f1efc4">Europe</text></g>
<g><rect x="353.8" y="229.0" width="68" height="13.5" rx="6.75" fill="#3a3a20" opacity="0.75"/><path d="M384.3,240.8L387.3,248.5L390.3,240.8Z" fill="#3a3a20" opacity="0.6" transform="translate(0.6,0.8)"/><rect x="353.3" y="227.8" width="68" height="13.5" rx="6.75" fill="#b8b66b"/><path d="M384.3,240.8L387.3,248.5L390.3,240.8Z" fill="#b8b66b"/><text x="387.3" y="237.0" text-anchor="middle" font-family="Liberation Sans" font-size="7" fill="#f1efc4">Mea</text></g>
<g><rect x="469.3" y="205.2" width="68" height="13.5" rx="6.75" fill="#3a3a20" opacity="0.75"/><path d="M499.8,217.0L502.8,224.7L505.8,217.0Z" fill="#3a3a20" opacity="0.6" transform="translate(0.6,0.8)"/><rect x="468.8" y="204.0" width="68" height="13.5" rx="6.75" fill="#b8b66b"/><path d="M499.8,217.0L502.8,224.7L505.8,217.0Z" fill="#b8b66b"/><text x="502.8" y="213.2" text-anchor="middle" font-family="Liberation Sans" font-size="7" fill="#f1efc4">Asia Pacific</text></g>
<g><rect x="251.7" y="257.5" width="68" height="13.5" rx="6.75" fill="#3a3a20" opacity="0.75"/><path d="M282.2,269.3L285.2,277.0L288.2,269.3Z" fill="#3a3a20" opacity="0.6" transform="translate(0.6,0.8)"/><rect x="251.2" y="256.3" width="68" height="13.5" rx="6.75" fill="#b8b66b"/><path d="M282.2,269.3L285.2,277.0L288.2,269.3Z" fill="#b8b66b"/><text x="285.2" y="265.5" text-anchor="middle" font-family="Liberation Sans" font-size="7" fill="#f1efc4">Latin America</text></g>
</svg>
<div class="t" id="sub">North America dominated the Feed Premixes Market in 2024, accounting for 21.9% of market share</div>
<div class="t" id="email">Email:info@snsinsider.com</div>
<div class="t" id="source">Source:www.snsinsider.com</div>
<div id="legsq"></div>
<div class="t" id="leg">Largest Region</div>
<div id="botbar"></div>
</body></html>
